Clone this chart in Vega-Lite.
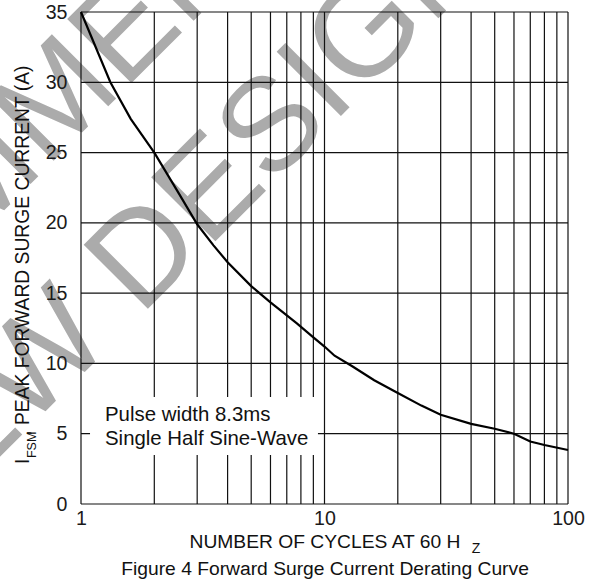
{
  "$schema": "https://vega.github.io/schema/vega-lite/v6.json",
  "width": 487,
  "height": 492,
  "autosize": "none",
  "padding": {"left": 81, "top": 12, "right": 22, "bottom": 79},
  "background": "white",
  "view": {"stroke": null},
  "config": {"font": "Liberation Sans"},
  "layer": [
    {
      "data": {"values": [{}]},
      "mark": {"type": "text", "text": "NOT RECOMMENDED FOR", "angle": 315, "fontSize": 132, "color": "#ababab", "align": "center", "baseline": "middle"},
      "encoding": {
        "x": {"datum": 0.725, "type": "quantitative"},
        "y": {"datum": 27.96, "type": "quantitative"}
      }
    },
    {
      "data": {"values": [{}]},
      "mark": {"type": "text", "text": "NEW DESIGN", "angle": 315, "fontSize": 132, "color": "#ababab", "align": "center", "baseline": "middle"},
      "encoding": {
        "x": {"datum": 2.30, "type": "quantitative"},
        "y": {"datum": 19.42, "type": "quantitative"}
      }
    },
    {
      "data": {"values": [{"gx": 1}, {"gx": 2}, {"gx": 3}, {"gx": 4}, {"gx": 5}, {"gx": 6}, {"gx": 7}, {"gx": 8}, {"gx": 9}, {"gx": 10}, {"gx": 20}, {"gx": 30}, {"gx": 40}, {"gx": 50}, {"gx": 60}, {"gx": 70}, {"gx": 80}, {"gx": 90}, {"gx": 100}]},
      "mark": {"type": "rule", "color": "#111111", "strokeWidth": 1.2},
      "encoding": {"x": {"field": "gx", "type": "quantitative"}}
    },
    {
      "data": {"values": [{"gy": 0}, {"gy": 5}, {"gy": 10}, {"gy": 15}, {"gy": 20}, {"gy": 25}, {"gy": 30}, {"gy": 35}]},
      "mark": {"type": "rule", "color": "#111111", "strokeWidth": 1.2},
      "encoding": {"y": {"field": "gy", "type": "quantitative"}}
    },
    {
      "data": {"values": [{}]},
      "mark": {"type": "rect", "fill": "white", "stroke": null},
      "encoding": {
        "x": {"datum": 1.089, "type": "quantitative"},
        "x2": {"datum": 9.40},
        "y": {"datum": 7.61, "type": "quantitative"},
        "y2": {"datum": 3.49}
      }
    },
    {
      "data": {"values": [{}]},
      "mark": {"type": "text", "text": ["Pulse width 8.3ms", "Single Half Sine-Wave"], "fontSize": 20.4, "lineHeight": 24, "color": "#111111", "align": "left", "baseline": "alphabetic"},
      "encoding": {
        "x": {"datum": 1.255, "type": "quantitative"},
        "y": {"datum": 5.905, "type": "quantitative"}
      }
    },
    {
      "data": {"values": [
        {"cycles": 1, "current": 35},
        {"cycles": 1.32, "current": 30},
        {"cycles": 1.6, "current": 27.4},
        {"cycles": 2, "current": 25},
        {"cycles": 2.5, "current": 22.2},
        {"cycles": 3, "current": 19.9},
        {"cycles": 3.5, "current": 18.4},
        {"cycles": 4, "current": 17.2},
        {"cycles": 5, "current": 15.5},
        {"cycles": 6, "current": 14.35},
        {"cycles": 7.7, "current": 12.85},
        {"cycles": 9, "current": 11.85},
        {"cycles": 10, "current": 11.2},
        {"cycles": 11, "current": 10.55},
        {"cycles": 13, "current": 9.8},
        {"cycles": 16, "current": 8.8},
        {"cycles": 20, "current": 7.9},
        {"cycles": 25, "current": 7.0},
        {"cycles": 30, "current": 6.35},
        {"cycles": 40, "current": 5.7},
        {"cycles": 50, "current": 5.35},
        {"cycles": 60, "current": 5.0},
        {"cycles": 70, "current": 4.45},
        {"cycles": 80, "current": 4.2},
        {"cycles": 100, "current": 3.84}
      ]},
      "mark": {"type": "line", "color": "black", "strokeWidth": 2.2},
      "encoding": {
        "x": {
          "field": "cycles", "type": "quantitative",
          "scale": {"type": "log", "domain": [1, 100], "nice": false},
          "axis": {
            "values": [1, 10, 100], "format": "d",
            "title": "NUMBER OF CYCLES AT 60 H",
            "grid": false, "domain": false, "ticks": false, "tickSize": 0,
            "labelFontSize": 19.6, "labelColor": "#1a1a1a", "labelPadding": 20,
            "labelBaseline": "alphabetic", "labelFlush": false, "labelOverlap": false, "labelBound": false,
            "titleFontSize": 19.25, "titleFontWeight": "normal", "titleColor": "#111111",
            "titleY": 43, "titleBaseline": "alphabetic", "zindex": 1
          }
        },
        "y": {
          "field": "current", "type": "quantitative",
          "scale": {"domain": [0, 35], "nice": false},
          "axis": {
            "values": [0, 5, 10, 15, 20, 25, 30, 35],
            "title": null,
            "grid": false, "domain": false, "ticks": false, "tickSize": 0,
            "labelFontSize": 19.6, "labelColor": "#1a1a1a", "labelPadding": 14,
            "labelFlush": false, "labelOverlap": false, "labelBound": false, "zindex": 1
          }
        }
      }
    },
    {
      "data": {"values": [{}]},
      "mark": {"type": "text", "text": "Z", "fontSize": 14, "color": "#111111", "align": "center", "baseline": "alphabetic"},
      "encoding": {
        "x": {"datum": 41.9, "type": "quantitative"},
        "y": {"datum": -3.486, "type": "quantitative"}
      }
    },
    {
      "data": {"values": [{}]},
      "mark": {"type": "text", "text": "Figure 4 Forward Surge Current Derating Curve", "fontSize": 19.25, "color": "#111111", "align": "center", "baseline": "alphabetic"},
      "encoding": {
        "x": {"datum": 10.05, "type": "quantitative"},
        "y": {"datum": -5.05, "type": "quantitative"}
      }
    },
    {
      "data": {"values": [{}]},
      "mark": {"type": "text", "text": "I", "angle": 270, "fontSize": 19.3, "color": "#111111", "align": "left", "baseline": "alphabetic"},
      "encoding": {
        "x": {"datum": 0.614, "type": "quantitative"},
        "y": {"datum": 2.846, "type": "quantitative"}
      }
    },
    {
      "data": {"values": [{}]},
      "mark": {"type": "text", "text": "FSM", "angle": 270, "fontSize": 12.5, "color": "#111111", "align": "left", "baseline": "alphabetic"},
      "encoding": {
        "x": {"datum": 0.655, "type": "quantitative"},
        "y": {"datum": 3.27, "type": "quantitative"}
      }
    },
    {
      "data": {"values": [{}]},
      "mark": {"type": "text", "text": ", PEAK FORWARD SURGE CURRENT (A)", "angle": 270, "fontSize": 19.3, "color": "#111111", "align": "left", "baseline": "alphabetic"},
      "encoding": {
        "x": {"datum": 0.614, "type": "quantitative"},
        "y": {"datum": 4.85, "type": "quantitative"}
      }
    }
  ]
}
